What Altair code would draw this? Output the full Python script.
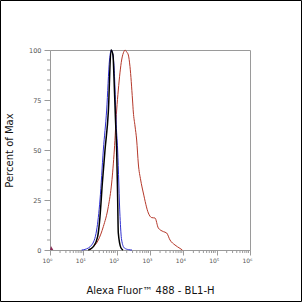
import altair as alt
import pandas as pd

# ---- data (fluorescence value, percent of max) ----
red_x = [15.8, 17.8, 28.2, 39.8, 56.2, 70.8, 85.1, 100, 112, 141, 166, 178, 200, 224, 251,
         299, 316, 355, 398, 447, 525, 631, 891, 1122, 1413, 1778, 2512, 3162, 3981, 5623, 7943, 9333]
red_y = [0, 0.8, 5, 11.7, 21.7, 33.5, 50, 70, 80, 95, 99.3, 100, 99, 97.5, 91.7,
         75, 69, 62, 55, 43, 35, 28.5, 18.5, 16.2, 16, 11, 9.2, 8.5, 5, 2.5, 0.8, 0]

blue_x = [8.9, 11.2, 17.8, 25.1, 31.6, 39.8, 50.1, 61.0, 69.2, 80.4, 87.1, 95.5, 107, 126, 141, 170, 224, 288]
blue_y = [0, 0.3, 2.5, 10, 25, 50, 70, 95, 100, 95, 85, 65, 50, 16.7, 5, 1, 0.2, 0]

black_x = [14.1, 20.0, 26.9, 31.6, 37.2, 44.7, 56.2, 67.6, 77.6, 83.2, 92.3, 100, 106, 112, 135, 155]
black_y = [0, 1.7, 6.7, 16.7, 33.5, 50, 69, 100, 97.5, 86, 65, 50, 30, 8.5, 1, 0]

blip_x = [1.0, 1.07, 1.26]
blip_y = [0, 2, 0]

x_major = [1, 10, 100, 1000, 10000, 100000, 1000000]
x_minor = [2, 3, 4, 5, 6, 7, 8, 9,
           20, 30, 40, 50, 60, 70, 80, 90,
           200, 300, 400, 500, 600, 700, 800, 900,
           2000, 3000, 4000, 5000, 6000, 7000, 8000, 9000,
           20000, 30000, 40000, 50000, 60000, 70000, 80000, 90000,
           200000, 300000, 400000, 500000, 600000, 700000, 800000, 900000]
y_major = [0, 25, 50, 75, 100]
y_minor = [5, 10, 15, 20, 30, 35, 40, 45, 55, 60, 65, 70, 80, 85, 90, 95]

GRAY = "#9a9a9a"
LABEL = "#555555"

xscale = alt.Scale(type="log", domain=[1, 1000000], nice=False)
yscale = alt.Scale(domain=[0, 100], nice=False, zero=False)

xaxis = alt.Axis(
    values=x_major, tickSize=5, tickColor=GRAY, domainColor=GRAY, grid=False,
    labelExpr="'10' + ['⁰','¹','²','³','⁴','⁵','⁶'][round(log(datum.value)/LN10)]",
    labelFontSize=6, labelColor=LABEL, labelFont="DejaVu Sans", labelPadding=2,
    labelOffset=-3, labelFlush=False,
    title="Alexa Fluor™ 488 - BL1-H", titleFont="DejaVu Sans", titleFontSize=10,
    titleFontWeight="normal", titleColor="#111111", titlePadding=22,
)
yaxis = alt.Axis(
    values=y_major, tickSize=6, tickColor=GRAY, domainColor=GRAY, grid=False,
    labelFontSize=6.5, labelColor=LABEL, labelFont="DejaVu Sans", labelPadding=3,
    labelFlush=False,
    title="Percent of Max", titleFont="DejaVu Sans", titleFontSize=10,
    titleFontWeight="normal", titleColor="#111111", titlePadding=14,
)

X = lambda: alt.X("x:Q", scale=xscale, axis=xaxis)
Y = lambda: alt.Y("y:Q", scale=yscale, axis=yaxis)

def curve(xs, ys, color, width):
    df = pd.DataFrame({"x": xs, "y": ys})
    return alt.Chart(df).mark_line(color=color, strokeWidth=width, interpolate="monotone").encode(
        x=X(), y=Y(),
    )

xminor = alt.Chart(pd.DataFrame({"x": x_minor})).mark_rule(color=GRAY, strokeWidth=1).encode(
    x=X(), y=alt.value(200), y2=alt.value(203),
)
yminor = alt.Chart(pd.DataFrame({"y": y_minor})).mark_rule(color=GRAY, strokeWidth=1).encode(
    y=Y(), x=alt.value(-3), x2=alt.value(0),
)

blip = alt.Chart(pd.DataFrame({"x": blip_x, "y": blip_y})).mark_area(color="#8a2a55", interpolate="linear").encode(
    x=X(), y=Y(),
)

border = alt.Chart(pd.DataFrame({"a": [0]})).mark_rect(fill="transparent", stroke="black", strokeWidth=1).encode(
    x=alt.value(-49.5), x2=alt.value(251.5), y=alt.value(-49.5), y2=alt.value(251.5),
)

chart = alt.layer(
    xminor, yminor, blip,
    curve(red_x, red_y, "#b5382a", 1),
    curve(blue_x, blue_y, "#2f2fd0", 1),
    curve(black_x, black_y, "#000000", 1.5),
    border,
).properties(
    width=200, height=200,
    padding={"left": 50, "top": 50, "right": 52, "bottom": 52},
    autosize=alt.AutoSizeParams(type="none"),
    background="white",
).configure_view(stroke=GRAY, strokeWidth=1)

chart.save("out.html", embed_options={"renderer": "svg", "actions": False})
